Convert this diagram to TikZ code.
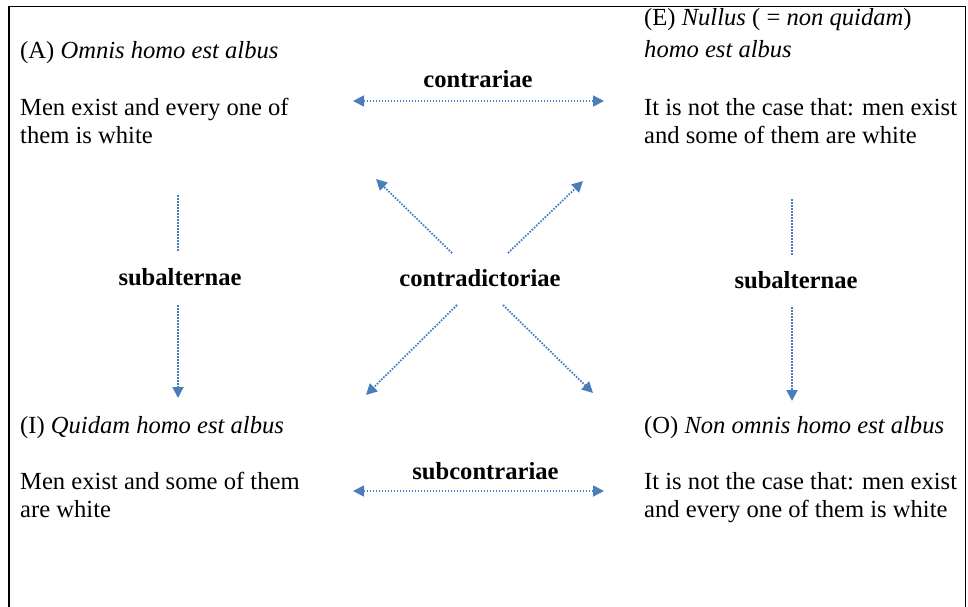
\documentclass[tikz,border=0pt]{standalone}
\usepackage{fontspec}
\setmainfont{Liberation Serif}
\usetikzlibrary{arrows.meta}
\definecolor{arrowblue}{HTML}{4A7EBB}
\tikzset{
  txt/.style={anchor=base west, inner sep=0pt, font=\fontsize{24.6}{28}\selectfont},
  lbl/.style={anchor=base, inner sep=0pt, font=\fontsize{24.6}{28}\selectfont\bfseries},
  rel/.style={draw=arrowblue, line width=1.8pt, dash pattern=on 1.6pt off 1.4pt},
  tip/.style={-{Triangle[length=11pt,width=11pt,fill=arrowblue]}},
  tips/.style={{Triangle[length=11pt,width=11pt,fill=arrowblue]}-{Triangle[length=11pt,width=11pt,fill=arrowblue]}},
  frame/.style={draw=black, line width=1.3pt}
}
\begin{document}
\begin{tikzpicture}[x=1pt,y=-1pt]
\useasboundingbox (0,0) rectangle (968,607);
% frame (open at the bottom)
\coordinate (fbl) at (9,607);
\coordinate (ftl) at (9,6.5);
\coordinate (ftr) at (965.5,6.5);
\coordinate (fbr) at (965.5,607);
\draw[frame] (fbl) -- (ftl) -- (ftr) -- (fbr);

% A
\node[txt] (A1) at (20,59) {(A) \textit{Omnis homo est albus}};
\node[txt] (A2) at (20,115) {Men exist and every one of};
\node[txt] (A3) at (20,143) {them is white};
% E
\node[txt] (E1) at (644,26) {(E) \textit{Nullus} ( = \textit{non quidam})};
\node[txt] (E2) at (644,58) {\textit{homo est albus}};
\node[txt] (E3) at (644,115) {It is not the case that: men exist};
\node[txt] (E4) at (644,143) {and some of them are white};
% I
\node[txt] (I1) at (20,433) {(I) \textit{Quidam homo est albus}};
\node[txt] (I2) at (20,489) {Men exist and some of them};
\node[txt] (I3) at (20,517) {are white};
% O
\node[txt] (O1) at (644,433) {(O) \textit{Non omnis homo est albus}};
\node[txt] (O2) at (644,489) {It is not the case that: men exist};
\node[txt] (O3) at (644,517) {and every one of them is white};

% labels
\node[lbl] (contr) at (478,88) {contrariae};
\node[lbl] (contrad) at (480,286) {contradictoriae};
\node[lbl] (subL) at (180,285) {subalternae};
\node[lbl] (subR) at (796,288) {subalternae};
\node[lbl] (subc) at (485.5,479) {subcontrariae};

% contrariae
\coordinate (cL) at (353,101);
\coordinate (cR) at (604,101);
\draw[rel,tips] (cL) -- (cR);
% subcontrariae
\coordinate (scL) at (353,491);
\coordinate (scR) at (604,491);
\draw[rel,tips] (scL) -- (scR);

% left subalternae
\coordinate (sL1) at (178,195);
\coordinate (sL2) at (178,252);
\coordinate (sL3) at (178,305);
\coordinate (sL4) at (178,398);
\draw[rel] (sL1) -- (sL2);
\draw[rel,tip] (sL3) -- (sL4);
% right subalternae
\coordinate (sR1) at (792,199);
\coordinate (sR2) at (792,255);
\coordinate (sR3) at (792,307);
\coordinate (sR4) at (792,401);
\draw[rel] (sR1) -- (sR2);
\draw[rel,tip] (sR3) -- (sR4);

% contradictoriae diagonals
\coordinate (dUL0) at (452,253);
\coordinate (dUL) at (376,179);
\coordinate (dUR0) at (508,253);
\coordinate (dUR) at (583,181);
\coordinate (dLL0) at (457,305);
\coordinate (dLL) at (366,395);
\coordinate (dLR0) at (503,305);
\coordinate (dLR) at (593,393);
\draw[rel,tip] (dUL0) -- (dUL);
\draw[rel,tip] (dUR0) -- (dUR);
\draw[rel,tip] (dLL0) -- (dLL);
\draw[rel,tip] (dLR0) -- (dLR);
\end{tikzpicture}
\end{document}
